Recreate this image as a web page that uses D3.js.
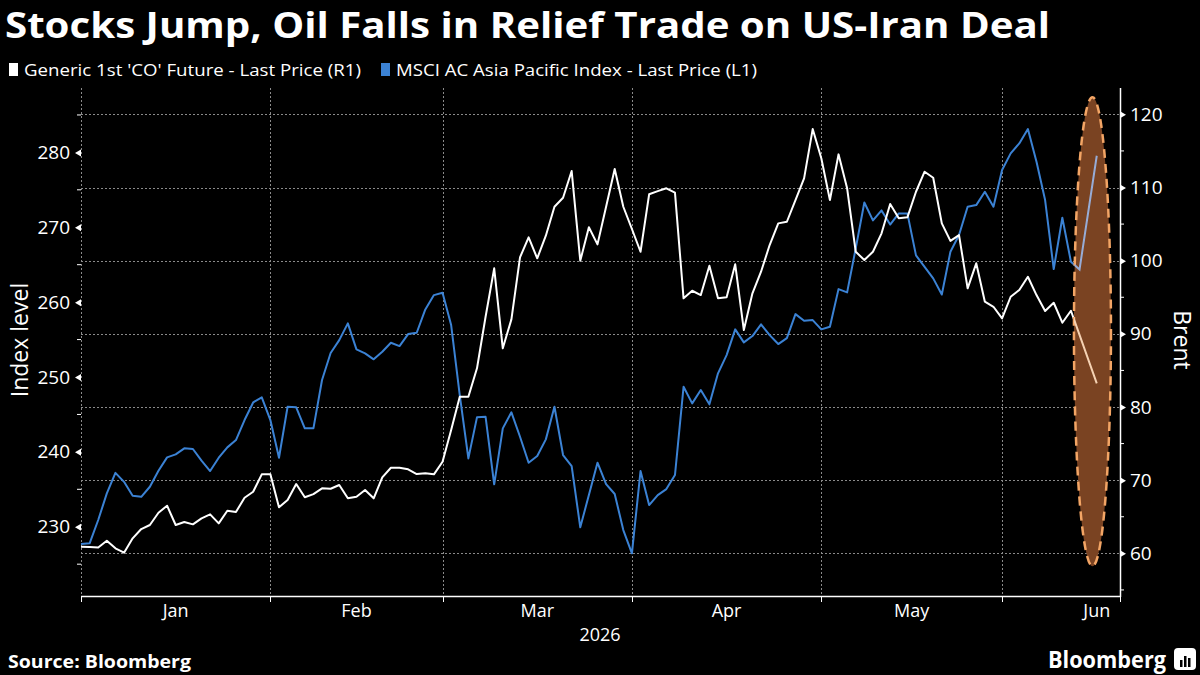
<!doctype html>
<html>
<head>
<meta charset="utf-8">
<title>Stocks Jump, Oil Falls</title>
<script src="https://cdnjs.cloudflare.com/ajax/libs/d3/7.8.5/d3.min.js"></script>
<style>
  body { margin: 0; background: #000; }
  svg { display: block; }
  text { font-family: "Open Sans", "Noto Sans", sans-serif; fill: #fff; }
</style>
</head>
<body>
<svg width="1200" height="675"></svg>
<script>
// one value per weekday from Jan 1 2026, null = no print that day
var firstDay = new Date(2026, 0, 1), tickEnd = new Date(2026, 6, 2);

var brent = [
  60.9, 60.86, 60.8, 61.72, 60.68, 60.09, 62.05, 63.32, 63.87, 65.55,
  66.51, 63.87, 64.28, 63.96, 64.78, 65.33, 64.1, 65.82, 65.65, 67.6,
  68.42, 70.8, 70.8, 66.29, 67.29, 69.47, 67.66, 68.1, 68.88, 68.83,
  69.34, 67.52, 67.74, 68.65, 67.52, 70.39, 71.7, 71.7, 71.48, 70.84,
  70.94, 70.8, 72.52, 76.85, 81.4, 81.4, 85.29, 92.34, 98.95, 88.02,
  91.98, 100.46, 103.19, 100.32, 103.41, 107.37, 108.6, 112.25, 99.99, 104.56,
  102.23, 107.37, 112.52, 107.37, 104.33, 101.22, 109.07, 109.5, 109.89, 109.29,
  94.85, 95.89, 95.3, 99.31, 94.85, 94.99, 99.5, 90.52, 95.54, 98.49,
  102.14, 105.1, 105.32, 108.29, 111.25, 117.99, 113.99, 108.29, 114.53, 109.89,
  101.22, 100.09, 101.22, 103.74, 107.74, 105.79, 105.92, 109.42, 112.16, 111.34,
  105.1, 102.7, 103.5, 96.22, 99.64, 94.39, 93.7, 92.12, 95.07, 95.99,
  97.8, 95.3, 93.12, 94.25, 91.52, 93.16, null, null, 83.24
];

var msci = [
  227.69, 227.78, 230.9, 234.46, 237.2, 236.0, 234.14, 234.0, 235.34, 237.48,
  239.27, 239.67, 240.47, 240.38, 238.82, 237.44, 239.22, 240.6, 241.58, 244.25,
  246.6, 247.28, 244.25, 239.22, 246.03, 245.95, 243.14, 243.14, 249.6, 253.2,
  254.93, 257.16, 253.69, 253.16, 252.36, 253.37, 254.57, 254.13, 255.73, 255.91,
  259.03, 260.94, 261.25, 256.94, 247.59, 239.13, 244.61, 244.69, 235.66, 243.14,
  245.28, 242.02, 238.55, 239.44, 241.67, 246.03, 239.58, 238.11, 229.92, 234.23,
  238.55, 235.7, 234.37, 229.56, 226.45, 237.44, 232.9, 234.23, 235.03, 236.9,
  248.7, 246.48, 248.26, 246.35, 250.49, 252.93, 256.36, 254.63, 255.47, 257.03,
  255.6, 254.4, 255.2, 258.4, 257.51, 257.6, 256.36, 256.71, 261.74, 261.3,
  267.18, 273.3, 270.92, 272.25, 270.36, 271.85, 271.85, 266.24, 264.72, 263.17,
  261.01, 266.73, 268.96, 272.74, 272.96, 274.74, 272.74, 277.64, 279.87, 281.2,
  283.11, 278.74, 273.63, 264.41, 271.27, 265.39, 264.37, null, 279.55
];

var leftTicks = [230, 240, 250, 260, 270, 280];
var leftMinor = [225, 235, 245, 255, 265, 275, 285];
var rightTicks = [60, 70, 80, 90, 100, 110, 120];
var rightMinor = [55, 65, 75, 85, 95, 105, 115];
var monthNames = ["Jan", "Feb", "Mar", "Apr", "May", "Jun"];

var title = "Stocks Jump, Oil Falls in Relief Trade on US-Iran Deal";
var brentName = "Generic 1st 'CO' Future - Last Price (R1)";
var msciName = "MSCI AC Asia Pacific Index - Last Price (L1)";

var blue = "#3b82d4", grid = "#8a8a8a";

var svg = d3.select("svg");
svg.append("rect").attr("width", 1200).attr("height", 675).attr("fill", "#000");

var pL = 81, pR = 1120, pT = 88, pB = 596;

// weekday axis, like the terminal draws it
var days = d3.timeDay.range(firstDay, tickEnd).filter(function (d) { return d.getDay() % 6 !== 0; });
var x = d3.scaleLinear().domain([0, 120.7]).range([pL, pR]);
var yL = d3.scaleLinear().domain([220.75, 288.6]).range([pB, pT]);
var yR = d3.scaleLinear().domain([54.17, 123.6]).range([pB, pT]);

var monthStart = d3.range(7).map(function (m) {
  return days.findIndex(function (d) { return d.getMonth() === m; });
});

// grid
var g = svg.append("g");
g.selectAll(".hgrid").data(rightTicks).enter().append("line")
  .attr("x1", pL).attr("x2", pR)
  .attr("y1", function (d) { return Math.round(yR(d)) + 0.5; }).attr("y2", function (d) { return Math.round(yR(d)) + 0.5; })
  .attr("stroke", grid).attr("stroke-width", 1).attr("stroke-dasharray", "2,2");
g.selectAll(".vgrid").data(monthStart.slice(0, 6)).enter().append("line")
  .attr("x1", function (d) { return Math.round(x(d)) + 0.5; }).attr("x2", function (d) { return Math.round(x(d)) + 0.5; })
  .attr("y1", pT).attr("y2", pB)
  .attr("stroke", grid).attr("stroke-width", 1).attr("stroke-dasharray", "2,2");

// left axis
var la = g.append("g").attr("transform", "translate(" + pL + ",0)")
  .call(d3.axisLeft(yL).tickValues(leftTicks).tickSize(0).tickPadding(11));
la.select(".domain").remove();
la.selectAll(".tick text").attr("font-size", 19).attr("fill", "#fff").attr("font-family", "Open Sans");
la.selectAll(".tick").append("path").attr("d", "M0,-3.5L-6,0L0,3.5Z").attr("fill", "#fff");
g.selectAll(".lminor").data(leftMinor).enter().append("line")
  .attr("x1", pL - 4).attr("x2", pL)
  .attr("y1", function (d) { return yL(d); }).attr("y2", function (d) { return yL(d); })
  .attr("stroke", "#fff");

// right axis
var ra = g.append("g").attr("transform", "translate(" + pR + ",0)")
  .call(d3.axisRight(yR).tickValues(rightTicks).tickSize(0).tickPadding(10));
ra.select(".domain").remove();
ra.selectAll(".tick text").attr("font-size", 19).attr("fill", "#fff").attr("font-family", "Open Sans");
ra.selectAll(".tick").append("path").attr("d", "M0,-3.5L6,0L0,3.5Z").attr("fill", "#fff");
g.selectAll(".rminor").data(rightMinor).enter().append("line")
  .attr("x1", pR).attr("x2", pR + 4)
  .attr("y1", function (d) { return yR(d); }).attr("y2", function (d) { return yR(d); })
  .attr("stroke", "#fff");
g.append("line").attr("x1", pR + 0.5).attr("x2", pR + 0.5).attr("y1", pT).attr("y2", pB + 1)
  .attr("stroke", "#fff").attr("stroke-width", 1.5);

// bottom axis
g.append("line").attr("x1", pL).attr("x2", pR + 1).attr("y1", pB + 0.5).attr("y2", pB + 0.5)
  .attr("stroke", "#fff").attr("stroke-width", 1.5);
g.selectAll(".xtick").data(monthStart.slice(0, 6).concat([120.7])).enter().append("line")
  .attr("x1", function (d) { return Math.round(x(d)) + 0.5; }).attr("x2", function (d) { return Math.round(x(d)) + 0.5; })
  .attr("y1", pB).attr("y2", pB + 6)
  .attr("stroke", "#fff");
g.selectAll(".xlab").data(monthNames).enter().append("text")
  .attr("x", function (d, i) { return x((monthStart[i] + monthStart[i + 1]) / 2); })
  .attr("y", 617).attr("text-anchor", "middle").attr("font-size", 18)
  .text(function (d) { return d; });
g.append("text").attr("x", 600).attr("y", 641).attr("text-anchor", "middle").attr("font-size", 18)
  .text(firstDay.getFullYear());

// axis titles
g.append("text").attr("transform", "translate(28,340) rotate(-90)").attr("text-anchor", "middle")
  .attr("font-size", 23).text("Index level");
g.append("text").attr("transform", "translate(1174,340) rotate(90)").attr("text-anchor", "middle")
  .attr("font-size", 23).text("Brent");

// lines
function pts(arr) {
  return arr.map(function (v, i) { return { i: i, v: v }; }).filter(function (d) { return d.v != null; });
}
var lineL = d3.line().x(function (d) { return x(d.i); }).y(function (d) { return yL(d.v); });
var lineR = d3.line().x(function (d) { return x(d.i); }).y(function (d) { return yR(d.v); });

var plot = svg.append("g");
plot.append("path").datum(pts(msci)).attr("d", lineL)
  .attr("fill", "none").attr("stroke", blue).attr("stroke-width", 2).attr("stroke-linejoin", "round");
plot.append("path").datum(pts(brent)).attr("d", lineR)
  .attr("fill", "none").attr("stroke", "#fff").attr("stroke-width", 2).attr("stroke-linejoin", "round");

// highlight around the deal move
var ecx = x(117.5), ecy = (yR(122.35) + yR(58.25)) / 2, erx = 18.5, ery = (yR(58.25) - yR(122.35)) / 2;
svg.append("clipPath").attr("id", "hl").append("ellipse")
  .attr("cx", ecx).attr("cy", ecy).attr("rx", erx).attr("ry", ery);
plot.append("ellipse").attr("cx", ecx).attr("cy", ecy).attr("rx", erx).attr("ry", ery)
  .attr("fill", "#7a4322").attr("stroke", "#f3a565").attr("stroke-width", 2.5).attr("stroke-dasharray", "9,6");
plot.append("path").datum(pts(msci)).attr("d", lineL).attr("clip-path", "url(#hl)")
  .attr("fill", "none").attr("stroke", "#97acd6").attr("stroke-width", 2);
plot.append("path").datum(pts(brent)).attr("d", lineR).attr("clip-path", "url(#hl)")
  .attr("fill", "none").attr("stroke", "#f5d2b3").attr("stroke-width", 2);

// title and legend
svg.append("text").attr("x", 5).attr("y", 38).attr("font-size", 36).attr("font-weight", 700)
  .attr("textLength", 1045).attr("lengthAdjust", "spacingAndGlyphs").text(title);

var legend = svg.append("g");
legend.append("rect").attr("x", 9).attr("y", 63).attr("width", 9).attr("height", 13).attr("fill", "#fff");
legend.append("text").attr("x", 24).attr("y", 76).attr("font-size", 16)
  .attr("textLength", 337).attr("lengthAdjust", "spacingAndGlyphs").text(brentName);
legend.append("rect").attr("x", 381).attr("y", 63).attr("width", 9).attr("height", 13).attr("fill", blue);
legend.append("text").attr("x", 396).attr("y", 76).attr("font-size", 16)
  .attr("textLength", 361).attr("lengthAdjust", "spacingAndGlyphs").text(msciName);

// footer
svg.append("text").attr("x", 8).attr("y", 668).attr("font-size", 17).attr("font-weight", 700)
  .attr("textLength", 183).attr("lengthAdjust", "spacingAndGlyphs").text("Source: Bloomberg");
svg.append("text").attr("x", 1048).attr("y", 668).attr("font-size", 23).attr("font-weight", 700)
  .attr("textLength", 118).attr("lengthAdjust", "spacingAndGlyphs").text("Bloomberg");
var logo = svg.append("g").attr("transform", "translate(1174,648)");
logo.append("rect").attr("width", 22).attr("height", 22).attr("rx", 4).attr("fill", "#fff");
[[6, 12, 7], [10, 8, 11], [14, 10, 9]].forEach(function (b) {
  logo.append("rect").attr("x", b[0]).attr("y", b[1]).attr("width", 2.5).attr("height", b[2]).attr("fill", "#000");
});
</script>
</body>
</html>
